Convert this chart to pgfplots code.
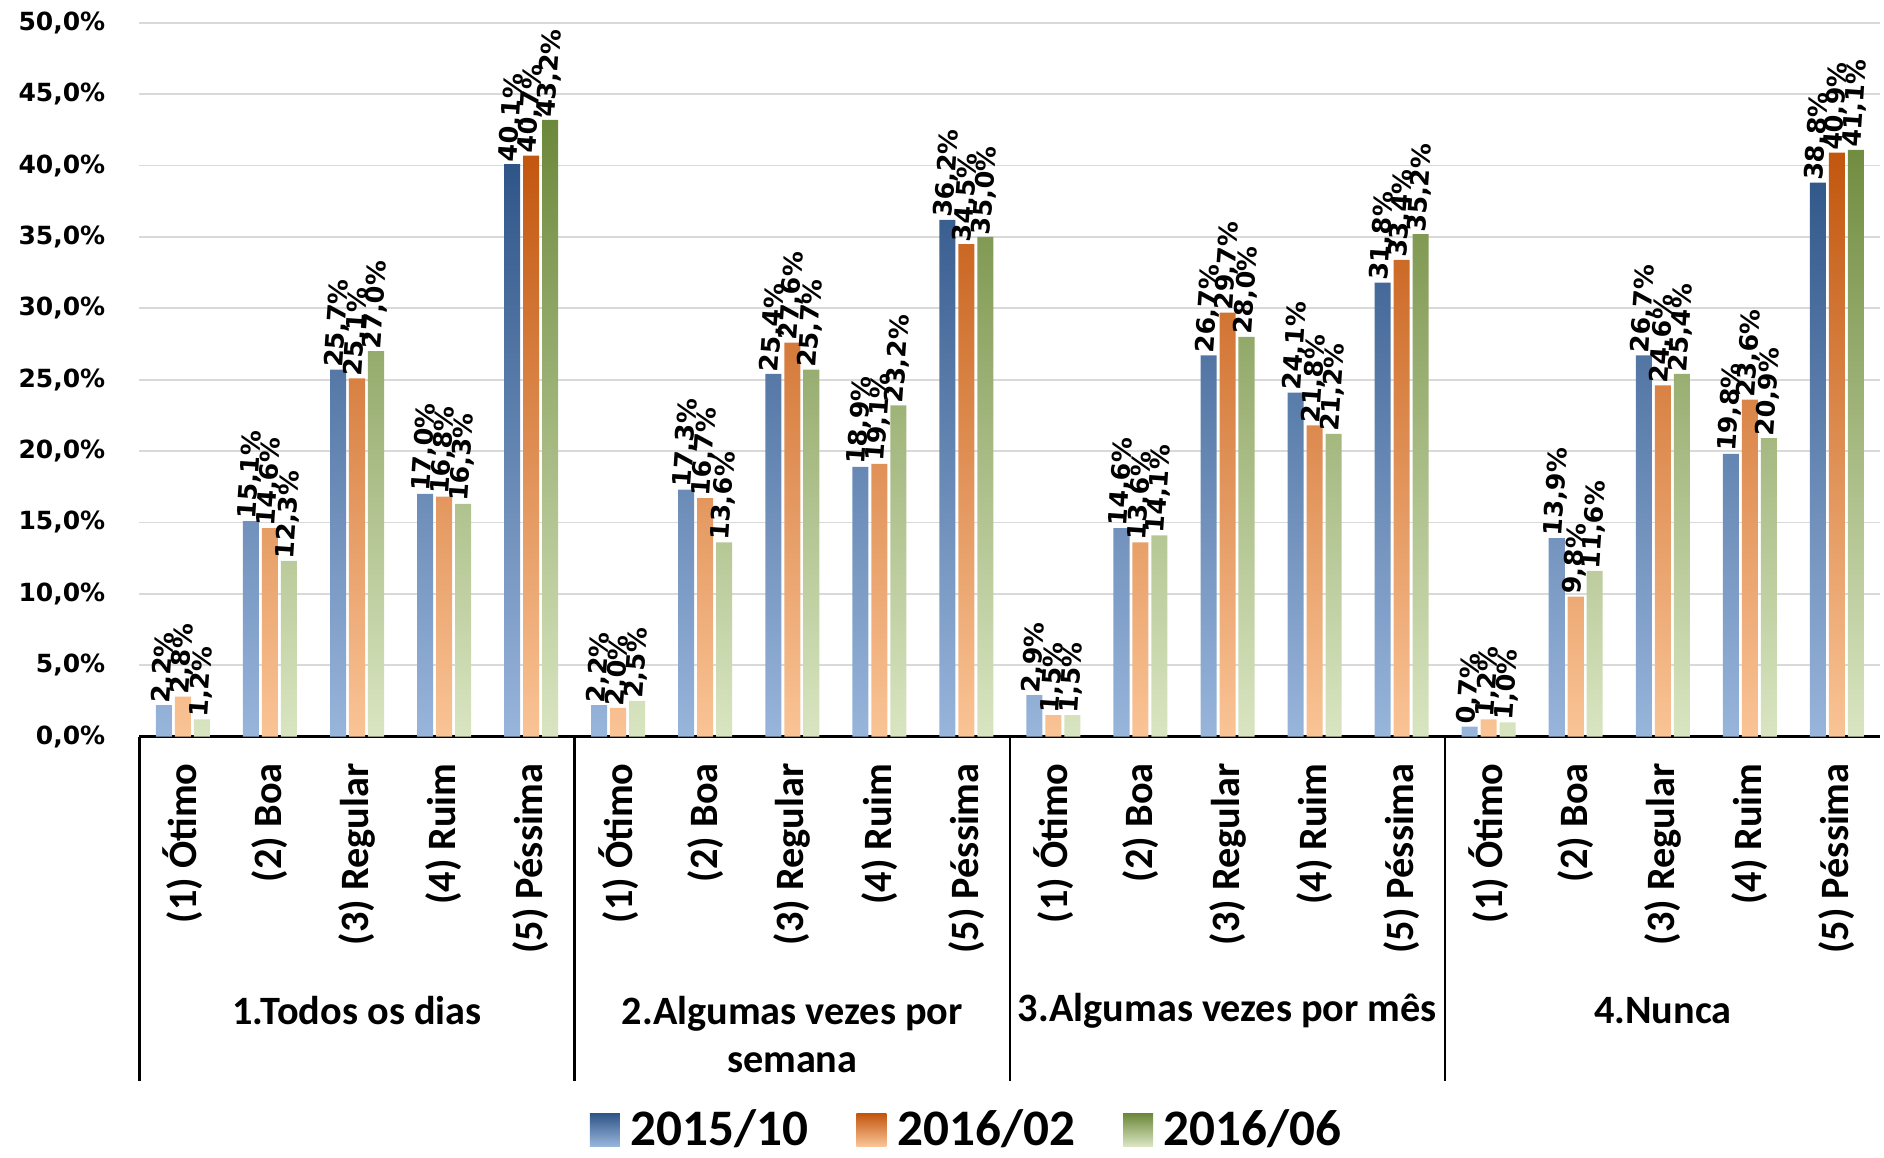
\documentclass[border=0pt]{standalone}
\usepackage{fontspec}
\usepackage{pgfplots}
\usepackage{pgfplotstable}
\pgfplotsset{compat=1.18}
\newfontfamily\calfont{Carlito}
\newfontfamily\dvfont{DejaVu Sans}
\definecolor{bTop}{HTML}{2F5588}
\definecolor{bMid}{HTML}{5283C0}
\definecolor{bBot}{HTML}{98B5DB}
\definecolor{oTop}{HTML}{C2560E}
\definecolor{oMid}{HTML}{F6913F}
\definecolor{oBot}{HTML}{FAC496}
\definecolor{gTop}{HTML}{6C883A}
\definecolor{gMid}{HTML}{A6C170}
\definecolor{gBot}{HTML}{D9E5C1}
\definecolor{gridgray}{HTML}{D9D9D9}
\pgfplotstableread{
x a b c
0 2.2 2.8 1.2
1 15.1 14.6 12.3
2 25.7 25.1 27.0
3 17.0 16.8 16.3
4 40.1 40.7 43.2
5 2.2 2.0 2.5
6 17.3 16.7 13.6
7 25.4 27.6 25.7
8 18.9 19.1 23.2
9 36.2 34.5 35.0
10 2.9 1.5 1.5
11 14.6 13.6 14.1
12 26.7 29.7 28.0
13 24.1 21.8 21.2
14 31.8 33.4 35.2
15 0.7 1.2 1.0
16 13.9 9.8 11.6
17 26.7 24.6 25.4
18 19.8 23.6 20.9
19 38.8 40.9 41.1
}\datatable
\newcommand{\lbl}{\rotatebox{86}{\pgfmathprintnumber[fixed,fixed zerofill,precision=1,use comma]{\pgfplotspointmeta}\%}}
\begin{document}
\begin{tikzpicture}
\begin{axis}[
  scale only axis, width=724.5pt, height=297pt,
  at={(0,0)}, anchor=south west,
  xmin=-0.5, xmax=19.5, ymin=0, ymax=50,
  clip=false,
  axis x line*=bottom, x axis line style={-, black, line width=1pt},
  axis y line*=left, y axis line style={draw=none},
  ymajorgrids, grid style={draw=gridgray, line width=0.75pt},
  major tick length=0pt,
  ytick={0,5,...,50},
  /pgf/number format/assume math mode=true,
  yticklabel={\pgfmathprintnumber[fixed,fixed zerofill,precision=1,use comma]{\tick}\%},
  yticklabel style={font=\dvfont\bfseries\fontsize{10.4}{12}\selectfont, inner sep=0pt, anchor=east, xshift=-14pt},
  xtick={0,...,19},
  xticklabels={(1) Ótimo,(2) Boa,(3) Regular,(4) Ruim,(5) Péssima,(1) Ótimo,(2) Boa,(3) Regular,(4) Ruim,(5) Péssima,(1) Ótimo,(2) Boa,(3) Regular,(4) Ruim,(5) Péssima,(1) Ótimo,(2) Boa,(3) Regular,(4) Ruim,(5) Péssima},
  xticklabel style={yshift=-11pt, rotate=90, anchor=east, inner sep=0pt, font=\calfont\bfseries\fontsize{16.75}{20}\selectfont},
  bar width=6.67pt,
  legend style={at={(0.476,-0.551)}, anchor=center, draw=none, fill=none,
    font=\calfont\bfseries\fontsize{21.3}{24}\selectfont,
    /tikz/every even column/.append style={column sep=18pt}},
  legend columns=3,
]
\addplot[ybar, bar shift=-7.9pt, draw=none, top color=bTop, middle color=bMid, bottom color=bBot,
  legend image code/.code={\path[top color=bTop, middle color=bMid, bottom color=bBot] (0pt,-6.75pt) rectangle (12.5pt,6.75pt); \path (15pt,0pt);}]
  table[x=x,y=a]{\datatable};
\addlegendentry{2015/10}
\addplot[ybar, bar shift=0pt, draw=none, top color=oTop, middle color=oMid, bottom color=oBot,
  legend image code/.code={\path[top color=oTop, middle color=oMid, bottom color=oBot] (0pt,-6.75pt) rectangle (12.5pt,6.75pt); \path (15pt,0pt);}]
  table[x=x,y=b]{\datatable};
\addlegendentry{2016/02}
\addplot[ybar, bar shift=7.9pt, draw=none, top color=gTop, middle color=gMid, bottom color=gBot,
  legend image code/.code={\path[top color=gTop, middle color=gMid, bottom color=gBot] (0pt,-6.75pt) rectangle (12.5pt,6.75pt); \path (15pt,0pt);}]
  table[x=x,y=c]{\datatable};
\addlegendentry{2016/06}
% data labels
\addplot[draw=none, mark=none, forget plot, nodes near coords={\lbl},
  every node near coord/.style={anchor=south, inner sep=0.5pt, xshift=-7.9pt, font=\dvfont\bfseries\fontsize{10.6}{12}\selectfont, text=black}]
  table[x=x,y=a]{\datatable};
\addplot[draw=none, mark=none, forget plot, nodes near coords={\lbl},
  every node near coord/.style={anchor=south, inner sep=0.5pt, xshift=0pt, font=\dvfont\bfseries\fontsize{10.6}{12}\selectfont, text=black}]
  table[x=x,y=b]{\datatable};
\addplot[draw=none, mark=none, forget plot, nodes near coords={\lbl},
  every node near coord/.style={anchor=south, inner sep=0.5pt, xshift=7.9pt, font=\dvfont\bfseries\fontsize{10.6}{12}\selectfont, text=black}]
  table[x=x,y=c]{\datatable};
\pgfplotsinvokeforeach{-0.5,4.5,9.5,14.5}{
  \draw[black, line width=1pt] (axis cs:#1,0) -- ++(0pt,-143.5pt);
}
\begin{scope}[every node/.style={font=\calfont\bfseries\fontsize{16.75}{20}\selectfont, align=center}]
\node at (axis cs:2,0) [yshift=-114pt] {1.Todos os dias};
\node at (axis cs:7,0) [yshift=-124pt] {2.Algumas vezes por\\semana};
\node at (axis cs:12,0) [yshift=-114pt] {3.Algumas vezes por mês};
\node at (axis cs:17,0) [yshift=-114pt] {4.Nunca};
\end{scope}
\end{axis}
\pgfresetboundingbox
\path (-58pt,-175pt) rectangle (726pt,306.5pt);
\end{tikzpicture}
\end{document}
